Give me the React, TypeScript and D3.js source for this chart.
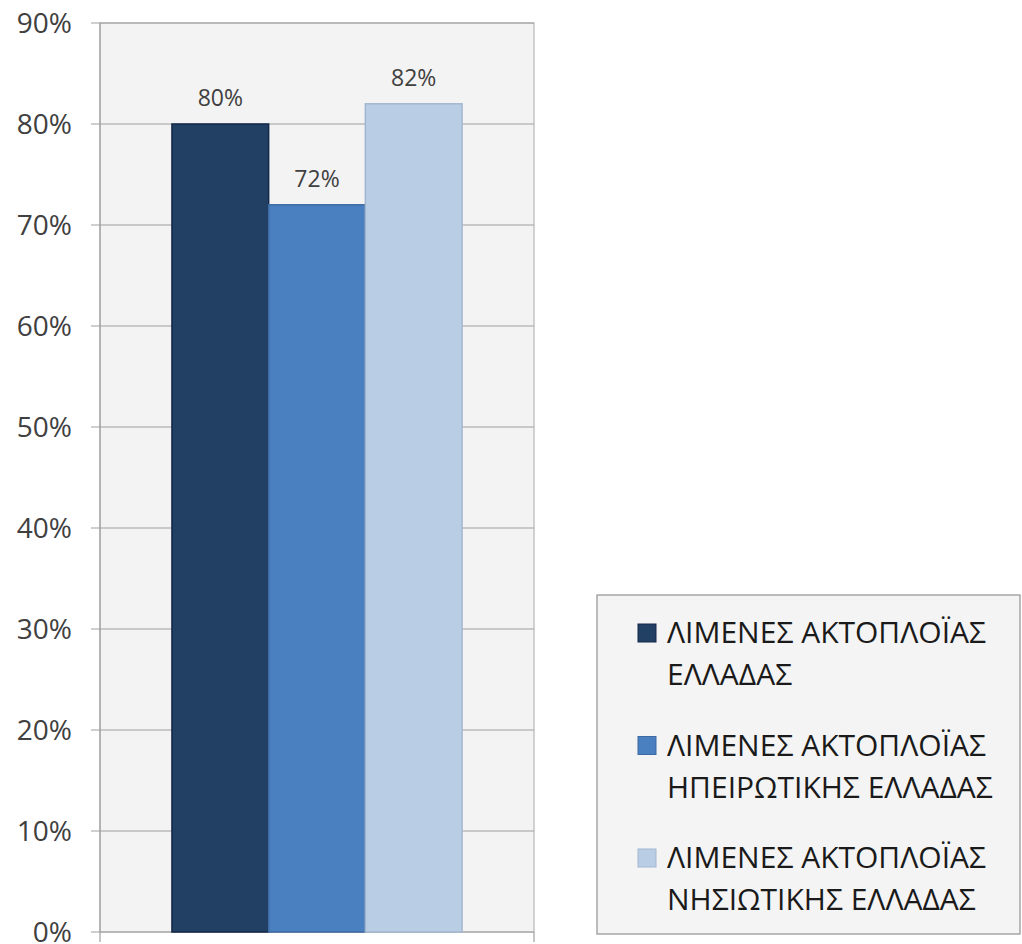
import { useEffect, useRef } from "react";
import * as d3 from "d3";

const series = [
  "ΛΙΜΕΝΕΣ ΑΚΤΟΠΛΟΪΑΣ ΕΛΛΑΔΑΣ",
  "ΛΙΜΕΝΕΣ ΑΚΤΟΠΛΟΪΑΣ ΗΠΕΙΡΩΤΙΚΗΣ ΕΛΛΑΔΑΣ",
  "ΛΙΜΕΝΕΣ ΑΚΤΟΠΛΟΪΑΣ ΝΗΣΙΩΤΙΚΗΣ ΕΛΛΑΔΑΣ",
];
const legendLines = [
  ["ΛΙΜΕΝΕΣ ΑΚΤΟΠΛΟΪΑΣ", "ΕΛΛΑΔΑΣ"],
  ["ΛΙΜΕΝΕΣ ΑΚΤΟΠΛΟΪΑΣ", "ΗΠΕΙΡΩΤΙΚΗΣ ΕΛΛΑΔΑΣ"],
  ["ΛΙΜΕΝΕΣ ΑΚΤΟΠΛΟΪΑΣ", "ΝΗΣΙΩΤΙΚΗΣ ΕΛΛΑΔΑΣ"],
];
const values = [0.8, 0.72, 0.82];
const yTicks = [0, 0.1, 0.2, 0.3, 0.4, 0.5, 0.6, 0.7, 0.8, 0.9];
const colors = ["#223f64", "#4a7fc0", "#b9cde5"];
const strokes = ["#15284a", "#3d6aa3", "#a3b6cf"];

const W = 1022;
const H = 944;
const FONT = "'Open Sans', sans-serif";

export default function App() {
  const ref = useRef<SVGSVGElement | null>(null);

  useEffect(() => {
    if (!ref.current) return;
    const svg = d3.select(ref.current);
    svg.selectAll("*").remove();

    const left = 100;
    const right = 534;
    const top = 23;
    const bottom = 932;

    const y = d3.scaleLinear([0, 0.9], [bottom, top]);
    const x0 = d3.scaleBand(["g"], [left, right]).paddingInner(0).paddingOuter(0.248);
    const x1 = d3.scaleBand(series, [0, x0.bandwidth()]).padding(0);
    const gx = x0("g") ?? 0;

    // plot background
    svg
      .append("rect")
      .attr("x", left)
      .attr("y", top)
      .attr("width", right - left)
      .attr("height", bottom - top)
      .attr("fill", "#f3f3f3")
      .attr("stroke", "#c4c4c4")
      .attr("stroke-width", 1.5);

    // gridlines
    svg
      .append("g")
      .selectAll("line")
      .data(yTicks)
      .join("line")
      .attr("x1", left - 9)
      .attr("x2", right)
      .attr("y1", (d) => y(d))
      .attr("y2", (d) => y(d))
      .attr("stroke", "#a0a0a0")
      .attr("stroke-width", 1.2);

    // left axis line
    svg
      .append("line")
      .attr("x1", left)
      .attr("x2", left)
      .attr("y1", top)
      .attr("y2", bottom)
      .attr("stroke", "#a0a0a0")
      .attr("stroke-width", 1.2);

    // bottom ticks
    svg
      .append("g")
      .selectAll("line")
      .data([left, right])
      .join("line")
      .attr("x1", (d) => d)
      .attr("x2", (d) => d)
      .attr("y1", bottom)
      .attr("y2", bottom + 10)
      .attr("stroke", "#a0a0a0")
      .attr("stroke-width", 1.2);

    // tick labels
    svg
      .append("g")
      .selectAll("text")
      .data(yTicks)
      .join("text")
      .attr("x", 72)
      .attr("y", (d) => y(d) + 10)
      .attr("text-anchor", "end")
      .attr("font-family", FONT)
      .attr("font-size", 28)
      .attr("fill", "#404040")
      .text((d) => d3.format(".0%")(d));

    // bars
    svg
      .append("g")
      .selectAll("rect")
      .data(values)
      .join("rect")
      .attr("x", (_, i) => gx + (x1(series[i]) ?? 0))
      .attr("y", (d) => y(d))
      .attr("width", x1.bandwidth())
      .attr("height", (d) => bottom - y(d))
      .attr("fill", (_, i) => colors[i])
      .attr("stroke", (_, i) => strokes[i])
      .attr("stroke-width", 1.5);

    // value labels
    svg
      .append("g")
      .selectAll("text")
      .data(values)
      .join("text")
      .attr("x", (_, i) => gx + (x1(series[i]) ?? 0) + x1.bandwidth() / 2)
      .attr("y", (d) => y(d) - 18)
      .attr("text-anchor", "middle")
      .attr("font-family", FONT)
      .attr("font-size", 23)
      .attr("fill", "#404040")
      .text((d) => d3.format(".0%")(d));

    // legend
    const lg = svg.append("g");
    lg.append("rect")
      .attr("x", 597)
      .attr("y", 595)
      .attr("width", 423)
      .attr("height", 339)
      .attr("fill", "#f4f4f4")
      .attr("stroke", "#9a9a9a")
      .attr("stroke-width", 1.3);

    const items = lg
      .selectAll("g")
      .data(series)
      .join("g")
      .attr("transform", (_, i) => `translate(638,${643 + i * 112.5})`);
    items
      .append("rect")
      .attr("x", 0)
      .attr("y", -19)
      .attr("width", 18)
      .attr("height", 18)
      .attr("fill", (_, i) => colors[i])
      .attr("stroke", (_, i) => strokes[i]);
    items
      .selectAll("text")
      .data((_, i) => legendLines[i])
      .join("text")
      .attr("x", 29)
      .attr("y", (_, j) => j * 42)
      .attr("font-family", FONT)
      .attr("font-size", 30)
      .attr("fill", "#1a1a1a")
      .text((d) => d);
  }, []);

  return (
    <svg
      ref={ref}
      width={W}
      height={H}
      style={{ position: "absolute", left: 0, top: 0, background: "#fff" }}
    />
  );
}
